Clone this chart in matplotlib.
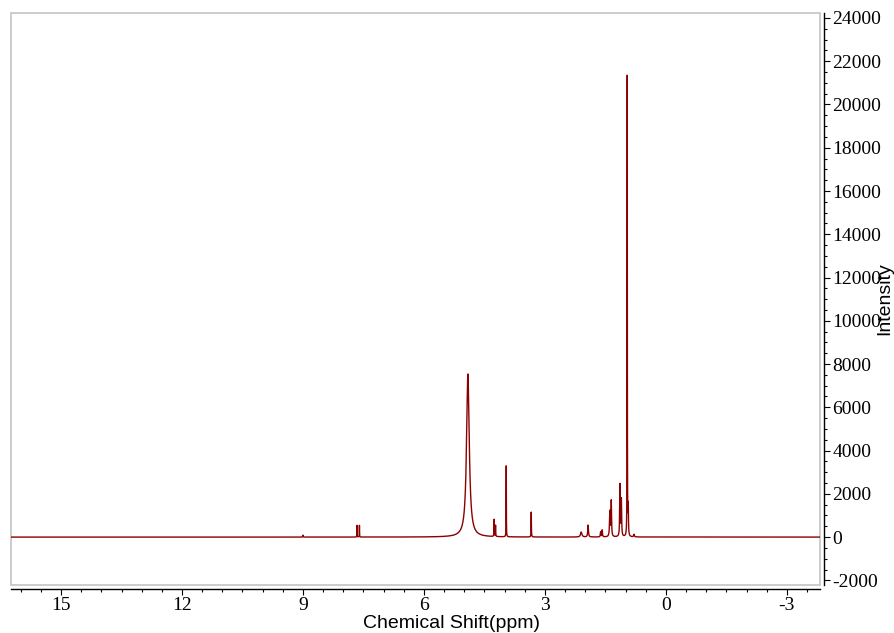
import numpy as np
import matplotlib
matplotlib.use("Agg")
import matplotlib.pyplot as plt
from matplotlib.patches import Rectangle
from matplotlib.ticker import MultipleLocator

plt.rcParams['axes.unicode_minus'] = False

# peak list: shift (ppm), height, width (ppm, FWHM)
PEAK_SHIFT = [9.00, 7.66, 7.60, 4.91, 4.26, 4.225, 3.96, 3.34, 2.10, 1.93,
              1.62, 1.58, 1.39, 1.355, 1.14, 1.105, 0.96, 0.935, 0.79]
PEAK_HEIGHT = [90, 540, 540, 7540, 790, 520, 3280, 1150, 230, 550,
               230, 320, 1170, 1630, 2400, 1700, 21270, 1340, 120]
PEAK_WIDTH = [0.01, 0.006, 0.006, 0.08, 0.008, 0.008, 0.006, 0.008, 0.04, 0.02,
              0.015, 0.015, 0.02, 0.015, 0.015, 0.015, 0.006, 0.012, 0.02]

X_MIN, X_MAX = -3.82, 16.24
Y_MIN, Y_MAX = -2215, 24230


def spectrum(x):
    y = np.zeros_like(x)
    for c, h, w in zip(PEAK_SHIFT, PEAK_HEIGHT, PEAK_WIDTH):
        y += h / (1 + ((x - c) / (w / 2)) ** 2)
    return y


ppm = np.linspace(X_MIN, X_MAX, 200001)
intensity = spectrum(ppm)

fig = plt.figure(figsize=(8.95, 6.33), dpi=100)
ax = fig.add_axes([11 / 895, 48 / 633, 809 / 895, 572 / 633])

ax.plot(ppm, intensity, color='#8b0000', linewidth=1.0)

ax.set_xlim(X_MAX, X_MIN)
ax.set_ylim(Y_MIN, Y_MAX)

# light gray plot frame, black axes pushed outside it
ax.add_patch(Rectangle((0, 0), 1, 1, transform=ax.transAxes, fill=False,
                       edgecolor='#c4c4c4', linewidth=1.2, clip_on=False))
for side in ['left', 'top']:
    ax.spines[side].set_visible(False)
ax.spines['right'].set_position(('outward', 2.9))
ax.spines['bottom'].set_position(('outward', 2.9))
ax.spines['right'].set_linewidth(1.0)
ax.spines['bottom'].set_linewidth(1.0)

ax.yaxis.tick_right()
ax.xaxis.set_major_locator(MultipleLocator(3))
ax.xaxis.set_minor_locator(MultipleLocator(0.5))
ax.yaxis.set_major_locator(MultipleLocator(2000))
ax.yaxis.set_minor_locator(MultipleLocator(500))

ax.tick_params(which='major', direction='out', length=4, width=0.8, pad=2,
               labelsize=14, labelfontfamily='Liberation Serif')
ax.tick_params(which='minor', direction='out', length=2, width=0.8)

ax.set_xlabel("Chemical Shift(ppm)", fontsize=14, family='Liberation Sans',
              va='baseline')
ax.xaxis.set_label_coords(0.544, -0.075)

ax.yaxis.set_label_position('right')
ax.set_ylabel("Intensity", fontsize=14, family='Liberation Sans')
ax.yaxis.label.set_va('center')
ax.yaxis.set_label_coords(1.0804, 0.5)

fig.savefig("out.png", dpi=100)
